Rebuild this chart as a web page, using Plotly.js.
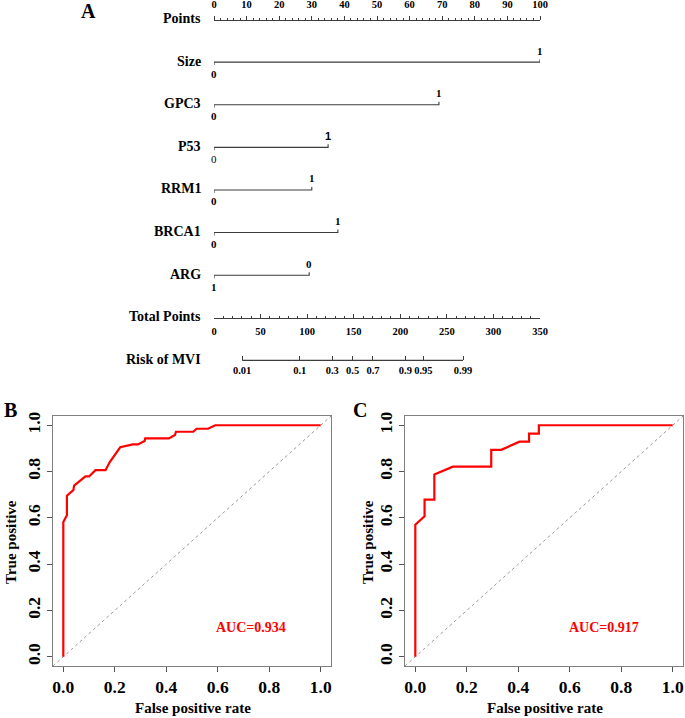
<!DOCTYPE html>
<html>
<head>
<meta charset="utf-8">
<script src="https://cdn.plot.ly/plotly-3.0.1.min.js"></script>
<style>
  body { margin: 0; background: #fff; }
  #plot { width: 685px; height: 718px; }
</style>
</head>
<body>
<div id="plot"></div>
<script>
// nomogram values
var pointsTicks = [0, 10, 20, 30, 40, 50, 60, 70, 80, 90, 100];
var variables = ['Size', 'GPC3', 'P53', 'RRM1', 'BRCA1', 'ARG'];
var varPoints = [100, 69, 35, 30, 38, 29.2];
var lowLabels = ['0', '0', '0', '0', '0', '1'];
var highLabels = ['1', '1', '1', '1', '1', '0'];
var totalTicks = [0, 50, 100, 150, 200, 250, 300, 350];
var riskTicks = [0.01, 0.1, 0.3, 0.5, 0.7, 0.9, 0.95, 0.99];
var riskLabels = ['0.01', '0.1', '0.3', '0.5', '0.7', '0.9', '0.95', '0.99'];

// ROC curves
var fprB = [0, 0, 0.014, 0.014, 0.039, 0.042, 0.086, 0.10, 0.125, 0.164, 0.18, 0.216, 0.221, 0.27, 0.29, 0.316, 0.318, 0.41, 0.434, 0.4375, 0.505, 0.518, 0.5625, 0.59, 1];
var tprB = [0, 0.582, 0.611, 0.696, 0.72, 0.739, 0.779, 0.779, 0.806, 0.806, 0.84, 0.902, 0.905, 0.917, 0.917, 0.932, 0.943, 0.943, 0.958, 0.972, 0.972, 0.985, 0.985, 1, 1];
var fprC = [0, 0, 0.036, 0.036, 0.074, 0.074, 0.146, 0.295, 0.295, 0.334, 0.405, 0.442, 0.442, 0.48, 0.48, 1];
var tprC = [0, 0.570, 0.607, 0.679, 0.679, 0.787, 0.821, 0.821, 0.894, 0.894, 0.929, 0.929, 0.964, 0.964, 1, 1];
var aucB = 'AUC=0.934';
var aucC = 'AUC=0.917';

// logistic model: total points for a given risk
function riskToTotal(p) { return 148.8 + 25.8 * Math.log(p / (1 - p)); }

var serif = 'Liberation Serif, Times New Roman, serif';
var ink = '#3c3c3c';
var rowGap = 0.07;

var data = [];
var annotations = [];

function bold(size, color) {
  return {family: serif, size: size, weight: 'bold', color: color || '#000'};
}

// paper-positioned text, centred
function label(px, py, text, font, angle) {
  annotations.push({xref: 'paper', yref: 'paper', x: px / 685, y: 1 - py / 718,
    xanchor: 'center', yanchor: 'middle', text: text, textangle: angle || 0,
    showarrow: false, font: font});
}

// row labels
var rowNames = ['Points'].concat(variables).concat(['Total Points', 'Risk of MVI']);
rowNames.forEach(function (name, i) {
  annotations.push({xref: 'paper', yref: 'y', x: 203 / 685, y: i, xanchor: 'right', yanchor: 'middle',
    text: name, showarrow: false, font: bold(14), yshift: 1});
});

// variable segments
variables.forEach(function (v, k) {
  var row = k + 1;
  var p = varPoints[k];
  data.push({x: [0, 0, p, p], y: [row + rowGap, row, row, row - rowGap], xaxis: 'x', yaxis: 'y',
    mode: 'lines', line: {color: ink, width: 1.1}, hoverinfo: 'skip', showlegend: false});
  var hiFont = bold(11), loFont = bold(11);
  if (v === 'P53') {
    hiFont = {family: 'Liberation Sans, Arial, sans-serif', size: 11, weight: 'bold', color: '#000'};
    loFont = {family: serif, size: 11, color: '#000'};
  }
  annotations.push({xref: 'x', yref: 'y', x: p, y: row, text: highLabels[k], showarrow: false,
    yanchor: 'middle', yshift: 11.5, font: hiFont});
  annotations.push({xref: 'x', yref: 'y', x: 0, y: row, text: lowLabels[k], showarrow: false,
    yanchor: 'middle', yshift: -11.5, font: loFont});
});

// ruler axes need a trace each
data.push({x: [], y: [], xaxis: 'x2', yaxis: 'y', mode: 'lines', showlegend: false, hoverinfo: 'skip'});
data.push({x: [], y: [], xaxis: 'x3', yaxis: 'y', mode: 'lines', showlegend: false, hoverinfo: 'skip'});
data.push({x: [riskToTotal(riskTicks[0]), riskToTotal(riskTicks[riskTicks.length - 1])], y: [8, 8],
  xaxis: 'x4', yaxis: 'y', mode: 'lines', line: {color: ink, width: 1.1}, showlegend: false, hoverinfo: 'skip'});

// ROC traces
var lim = [-0.04, 1.04];
[['x5', 'y5', fprB, tprB], ['x6', 'y6', fprC, tprC]].forEach(function (s) {
  data.push({x: lim, y: lim, xaxis: s[0], yaxis: s[1], mode: 'lines',
    line: {color: '#999', width: 1, dash: 'dot'}, hoverinfo: 'skip', showlegend: false});
  data.push({x: s[2], y: s[3], xaxis: s[0], yaxis: s[1], mode: 'lines',
    line: {color: '#ff0000', width: 2.2}, hoverinfo: 'skip', showlegend: false});
});

annotations.push({xref: 'x5', yref: 'y5', x: 0.73, y: 0.125, text: aucB, showarrow: false, font: bold(14, '#ff0000')});
annotations.push({xref: 'x6', yref: 'y6', x: 0.735, y: 0.125, text: aucC, showarrow: false, font: bold(14, '#ff0000')});

// panel letters and ROC titles
label(88, 11, 'A', bold(20));
label(10, 410, 'B', bold(20));
label(360, 410, 'C', bold(20));
label(193, 708, 'False positive rate', bold(15));
label(545, 708, 'False positive rate', bold(15));
label(11, 542, 'True positive', bold(15), -90);
label(368, 542, 'True positive', bold(15), -90);

var rocTicks = [0, 0.2, 0.4, 0.6, 0.8, 1.0];
function rocAxis(domain, anchor, isY) {
  return {domain: domain, anchor: anchor, range: lim, tickvals: rocTicks,
    ticktext: rocTicks.map(function (t) { return t.toFixed(1); }),
    ticks: 'outside', ticklen: 5, tickcolor: '#555', showline: true, mirror: true,
    linecolor: '#808080', linewidth: 1, showgrid: false, zeroline: false,
    tickangle: isY ? -90 : 0, tickfont: bold(17.5), ticklabelstandoff: 0, fixedrange: true};
}

var rulerFont = bold(10.5);
var layout = {
  width: 685, height: 718,
  margin: {l: 0, r: 0, t: 0, b: 0},
  paper_bgcolor: '#fff', plot_bgcolor: 'rgba(0,0,0,0)',
  showlegend: false,
  xaxis: {domain: [214 / 685, 540 / 685], range: [0, 100], visible: false, anchor: 'y', fixedrange: true},
  yaxis: {domain: [1 - 380 / 718, 1], range: [8.46, -0.458], visible: false, anchor: 'x', fixedrange: true},
  xaxis2: {overlaying: 'x', anchor: 'free', position: 1 - 19.5 / 718, side: 'top', range: [0, 100],
    tickvals: pointsTicks, ticks: 'outside', ticklen: 4, tickcolor: ink,
    minor: {dtick: 2, ticks: 'outside', ticklen: 2, tickcolor: ink},
    showline: true, linecolor: ink, linewidth: 1, showgrid: false, zeroline: false,
    tickangle: 0, tickfont: rulerFont, ticklabelstandoff: 3},
  xaxis3: {overlaying: 'x', anchor: 'free', position: 1 - 318 / 718, side: 'bottom', range: [0, 350],
    tickvals: totalTicks, ticks: 'inside', ticklen: 4, tickcolor: ink,
    minor: {dtick: 10, ticks: 'inside', ticklen: 2, tickcolor: ink},
    showline: true, linecolor: ink, linewidth: 1, showgrid: false, zeroline: false,
    tickangle: 0, tickfont: rulerFont, ticklabelstandoff: 3},
  xaxis4: {overlaying: 'x', anchor: 'free', position: 1 - 360.3 / 718, side: 'bottom', range: [0, 350],
    tickvals: riskTicks.map(riskToTotal), ticktext: riskLabels, ticks: 'inside', ticklen: 4, tickcolor: ink,
    showline: false, showgrid: false, zeroline: false,
    tickangle: 0, tickfont: rulerFont, ticklabelstandoff: 2},
  xaxis5: rocAxis([53 / 685, 331 / 685], 'y5', false),
  yaxis5: rocAxis([1 - 666 / 718, 1 - 416 / 718], 'x5', true),
  xaxis6: rocAxis([405 / 685, 683 / 685], 'y6', false),
  yaxis6: rocAxis([1 - 666 / 718, 1 - 416 / 718], 'x6', true),
  annotations: annotations
};

Plotly.newPlot('plot', data, layout, {displayModeBar: false, staticPlot: true});
</script>
</body>
</html>
